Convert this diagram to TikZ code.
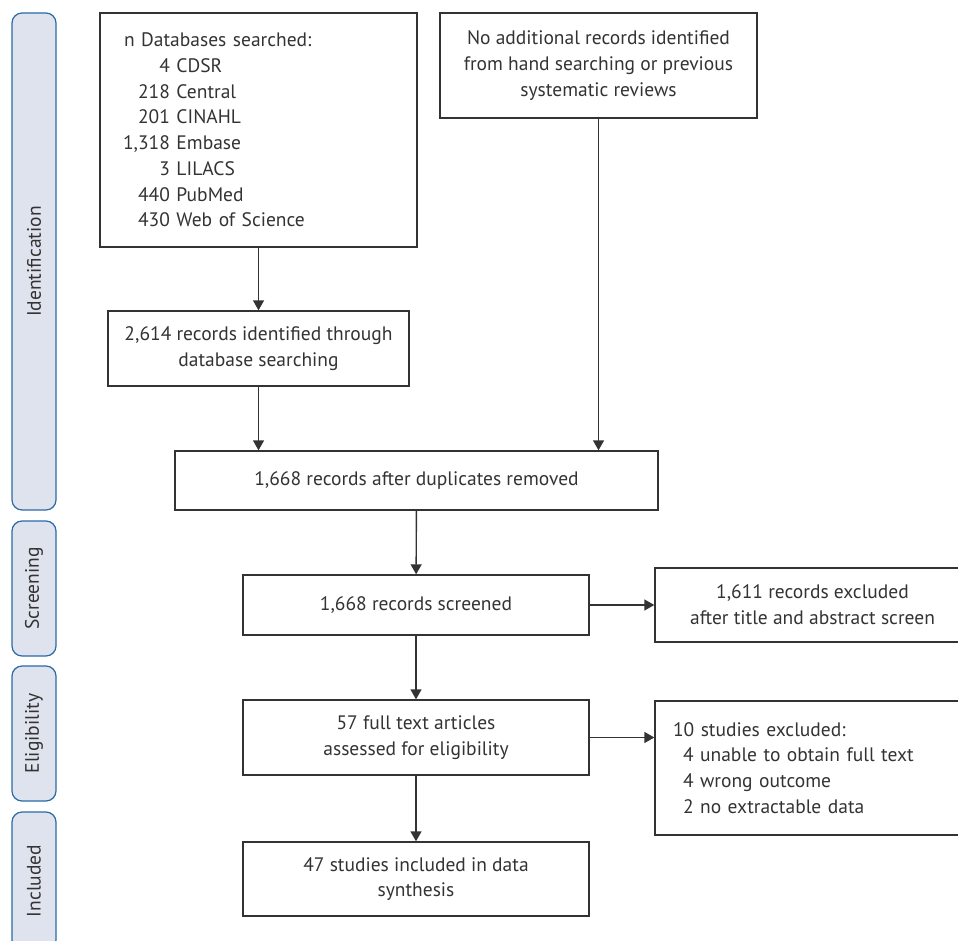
\documentclass[tikz,border=0pt]{standalone}
\usepackage{fontspec}
\setmainfont{PT Sans}
\usetikzlibrary{arrows.meta}
\definecolor{phasefill}{HTML}{DFE3EE}
\definecolor{phaseline}{HTML}{2B6AA6}
\definecolor{ink}{HTML}{333333}
\begin{document}
\begin{tikzpicture}[x=1pt,y=-1pt,
 font=\fontsize{19.5}{25.7}\selectfont,text=ink,
 box/.style={draw=ink,line width=1.4pt,inner sep=0pt,align=center},
 phase/.style={draw=phaseline,fill=phasefill,line width=1.2pt,rounded corners=10pt,
               minimum width=44pt,inner sep=0pt},
 plab/.style={rotate=90,text=ink},
 arr/.style={draw=ink,line width=1.4pt,-{Triangle[length=10pt,width=11pt]}}]
 \useasboundingbox (0,0) rectangle (958,941);
 % phases
 \node[phase,minimum height=497pt] (pid) at (34,261.5) {};
 \node[phase,minimum height=135pt] (psc) at (34,588.5) {};
 \node[phase,minimum height=135pt] (pel) at (34,733.5) {};
 \node[phase,minimum height=138pt] (pin) at (34,881) {};
 \node[plab] (lid) at (pid) {Identification};
 \node[plab] (lsc) at (psc) {Screening};
 \node[plab] (lel) at (pel) {Eligibility};
 \node[plab] (lin) at (pin) {Included};
 % boxes
 \node[box,minimum width=317pt,minimum height=234pt,text width=269pt,align=left]
  (db) at (258.5,130) {n Databases searched:\\
  \makebox[46pt][r]{4}\ CDSR\\
  \makebox[46pt][r]{218}\ Central\\
  \makebox[46pt][r]{201}\ CINAHL\\
  \makebox[46pt][r]{1,318}\ Embase\\
  \makebox[46pt][r]{3}\ LILACS\\
  \makebox[46pt][r]{440}\ PubMed\\
  \makebox[46pt][r]{430}\ Web of Science};
 \node[box,minimum width=317pt,minimum height=105pt] (extra) at (598.5,65.5)
  {No additional records identified\\ from hand searching or previous\\ systematic reviews};
 \node[box,minimum width=301pt,minimum height=75pt] (ident) at (258.5,348.5)
  {2,614 records identified through\\ database searching};
 \node[box,minimum width=483pt,minimum height=59pt] (dup) at (416.5,480.5)
  {1,668 records after duplicates removed};
 \node[box,minimum width=346pt,minimum height=60pt] (scr) at (416,605)
  {1,668 records screened};
 \node[box,minimum width=315pt,minimum height=74pt] (exa) at (812.5,605)
  {1,611 records excluded\\ after title and abstract screen};
 \node[box,minimum width=346pt,minimum height=75pt] (full) at (416,737.5)
  {57 full text articles\\ assessed for eligibility};
 \node[box,minimum width=315pt,minimum height=134pt,text width=279pt,align=left]
  (exb) at (812.5,768) {10 studies excluded:\\
  \hspace*{10pt}4 unable to obtain full text\\
  \hspace*{10pt}4 wrong outcome\\
  \hspace*{10pt}2 no extractable data};
 \node[box,minimum width=346pt,minimum height=74pt] (incl) at (416,879)
  {47 studies included in data\\ synthesis};
 % arrows
 \draw[arr] (db) -- (ident);
 \draw[arr] (ident.south) -- (ident.south |- dup.north);
 \draw[arr] (extra.south) -- (extra.south |- dup.north);
 \draw[arr] (dup) -- (scr);
 \draw[arr] (scr) -- (exa);
 \draw[arr] (scr) -- (full);
 \draw[arr] (full.east) -- (full.east -| exb.west);
 \draw[arr] (full) -- (incl);
\end{tikzpicture}
\end{document}
